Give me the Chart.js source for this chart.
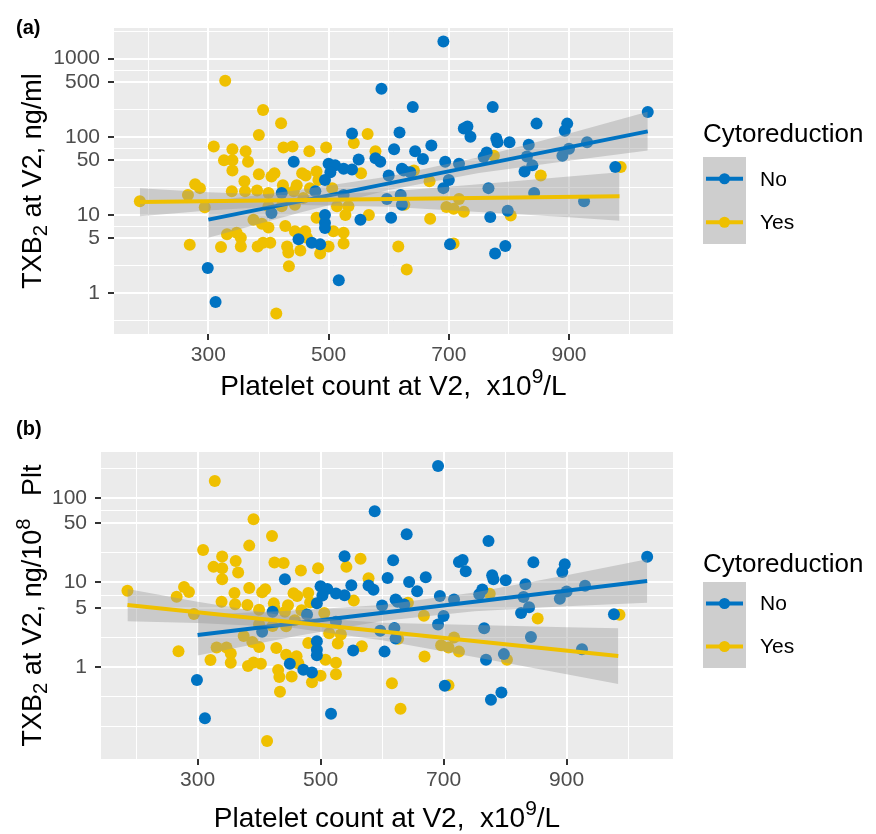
<!DOCTYPE html>
<html>
<head>
<meta charset="utf-8">
<script src="https://cdn.jsdelivr.net/npm/chart.js@4.4.1/dist/chart.umd.min.js"></script>
<style>
  body { margin: 0; background: #fff; }
  canvas { display: block; }
</style>
</head>
<body>
<canvas id="chartA" width="876" height="417"></canvas>
<canvas id="chartB" width="876" height="417"></canvas>
<script>
// platelet counts (x10^9/L), same patients in both panels
const platNo = [588,539,618,609,550,578,586,442,500,511,525,539,503,494,478,525,622,600,622,405,
  494,494,494,553,604,450,472,486,299,312,517,422,597,
  691,640,773,846,897,893,1031,725,731,736,779,781,801,671,644,657,763,758,833,830,
  930,889,900,694,717,625,636,700,691,766,839,826,977,842,925,769,798,702,777,794,620];
const platYes = [328,391,421,384,309,340,362,425,440,468,496,565,542,326,340,366,340,384,405,410,
  360,424,456,462,480,483,554,278,286,266,339,361,381,400,425,442,447,469,506,186,
  294,375,389,400,428,400,422,444,458,480,514,528,533,567,331,347,354,269,321,354,
  382,391,403,431,433,444,461,464,453,486,508,525,525,500,434,413,616,630,578,986,
  853,775,668,696,708,725,717,669,803,708,642,626];

// panel (a): TXB2 ng/ml
const txbNoA = [410,110,113,69,51,53,48,48,45,43,39,38,35,28,20,18,39,32,13.5,10.6,
  10,7.9,6.8,8.7,9.2,4.9,4.4,4.2,2.1,0.77,1.46,19,16,
  1650,239,239,147,147,119,207,127,135,100,95,85,85,77,65,52,63,55,79,56,
  85,57,70,48,45,37,35,28,22,22,43,36,41,19,15,9.4,11.3,4.2,3.2,4.0,18];
const txbYesA = [520,219,149,105,75,69,65,73,75,65,73,108,83,50,50,48,37,33,31,34,
  27,24,34,32,36,28,34,24.6,22,18,20,20,20.5,19,21,20,24,22,22,14.9,
  12.5,8.7,7.7,6.9,7.2,12.9,12.9,13.5,16.4,9.2,12.9,10,12.9,10,5.65,5.9,5.1,4.15,3.9,3.95,
  3.95,4.4,4.4,3.95,3.3,6.2,6.2,5.1,3.5,3.2,6.2,5.9,4.3,3.95,2.2,0.55,3.95,2.0,65,41,
  32,57,27,12.6,12,11,16,8.9,9.8,4.3,37,13.5];

// panel (b): TXB2 ng/10^8 Plt
const txbNoB = [69.7,20.4,18.3,11.3,9.3,9.2,8.2,10.9,9.0,8.4,7.4,7.05,7.0,5.67,4.18,3.43,6.27,5.33,2.17,2.62,
  2.02,1.6,1.38,1.57,1.52,1.09,0.93,0.86,0.70,0.247,0.28,4.5,2.68,
  239,37.3,30.9,17.4,16.4,13.3,20.1,17.5,18.5,13.6,12.2,10.9,10.6,11.5,10.1,7.9,8.26,7.26,9.5,6.75,
  9.14,6.4,7.8,6.9,6.3,5.9,5.5,4.0,3.18,2.87,5.1,4.36,4.2,2.26,1.62,1.22,1.42,0.60,0.41,0.50,2.9];
const txbYesB = [158.5,56,35.4,27.3,24.3,20.3,18,17.2,17,13.9,14.7,19.1,15.3,15.3,14.7,13.1,10.9,8.6,7.65,8.3,
  7.5,5.66,7.46,6.9,7.5,5.8,6.1,8.85,7.7,6.77,5.9,5.54,5.4,4.75,4.94,4.5,5.37,4.7,4.35,8.0,
  4.25,2.32,1.98,1.72,1.68,3.2,3.06,3.04,3.58,1.92,2.5,1.9,2.42,1.76,1.7,1.7,1.44,1.54,1.21,1.12,
  1.03,1.13,1.09,0.92,0.76,1.4,1.34,1.1,0.77,0.66,1.22,1.12,0.82,0.79,0.51,0.133,0.64,0.32,11.2,4.16,
  3.75,7.35,4.04,1.81,1.7,1.52,2.23,1.33,1.22,0.61,5.76,2.16];

// fitted lines and confidence bands
const fitXNo = [300, 1031];
const fitXYes = [186, 984];
const noFitA = [8.7, 117];
const yesFitA = [14.6, 17.3];
const noFitB = [2.39, 10.4];
const yesFitB = [5.4, 1.35];
const bandXNo = [300, 450, 600, 750, 900, 1031];
const bandXYes = [186, 300, 450, 600, 750, 900, 984];
const noUpperA = [14.8, 20.8, 30.9, 54.6, 110, 208];
const noLowerA = [5.1, 10.6, 20.8, 34.3, 49.4, 66.4];
const yesUpperA = [21.9, 19.5, 17.7, 19.9, 24.6, 30.9, 35.2];
const yesLowerA = [9.6, 11.4, 13.4, 12.7, 10.9, 9.3, 8.45];
const noUpperB = [4.15, 4.62, 5.43, 7.6, 12.2, 18.8];
const noLowerB = [1.37, 2.25, 3.5, 4.58, 5.24, 5.74];
const yesUpperB = [8.36, 5.9, 3.97, 3.34, 3.13, 2.96, 2.88];
const yesLowerB = [3.48, 3.32, 2.93, 2.07, 1.31, 0.82, 0.63];

// axis breaks
const xMajor = [300, 500, 700, 900];
const xMinor = [200, 400, 600, 800, 1000];
const yMajorA = [1, 5, 10, 50, 100, 500, 1000];
const yMinorA = [0.447, 2.236, 7.07, 22.36, 70.7, 223.6, 707, 2236];
const yMajorB = [1, 5, 10, 50, 100];
const yMinorB = [0.2, 0.447, 2.236, 7.07, 22.36, 70.7, 223.6];

const groups = ['No', 'Yes'];
const blue = '#0073C2';
const yellow = '#EFC000';
const bandFill = 'rgba(153,153,153,0.4)';
const FONT = "'Liberation Sans', Arial, sans-serif";

function pts(xs, ys) {
    return xs.map((x, i) => ({ x: x, y: ys[i] }));
}

function drawRich(ctx, parts, x, y, size) {
    let total = 0;
    parts.forEach(p => {
        const s = (p.sub || p.sup) ? size * 0.75 : size;
        ctx.font = s + 'px ' + FONT;
        p.w = ctx.measureText(p.t).width;
        total += p.w;
    });
    let cur = x - total / 2;
    ctx.textAlign = 'left';
    ctx.textBaseline = 'alphabetic';
    parts.forEach(p => {
        const s = (p.sub || p.sup) ? size * 0.75 : size;
        ctx.font = s + 'px ' + FONT;
        let dy = 0;
        if (p.sub) dy = size * 0.22;
        if (p.sup) dy = -size * 0.42;
        ctx.fillText(p.t, cur, y + dy);
        cur += p.w;
    });
}

const panelPlugin = {
    id: 'panel',
    beforeDraw(chart, args, o) {
        const c = chart.ctx, a = chart.chartArea;
        c.save();
        c.fillStyle = '#fff';
        c.fillRect(0, 0, chart.width, chart.height);
        c.fillStyle = '#EBEBEB';
        c.fillRect(a.left, a.top, a.right - a.left, a.bottom - a.top);
        c.restore();
    },
    afterDraw(chart, args, o) {
        const c = chart.ctx, a = chart.chartArea;
        c.save();
        c.fillStyle = '#000';
        c.font = 'bold 20px ' + FONT;
        c.textAlign = 'left';
        c.textBaseline = 'alphabetic';
        c.fillText(o.tag, 16, o.tagY);

        // y title
        c.save();
        c.translate(41, (a.top + a.bottom) / 2);
        c.rotate(-Math.PI / 2);
        drawRich(c, o.yTitle, 0, 0, 27);
        c.restore();

        // x title
        drawRich(c, [
            { t: 'Platelet count at V2,  x10' }, { t: '9', sup: true }, { t: '/L' }
        ], (a.left + a.right) / 2, o.xTitleY, 28);

        // legend
        const lx = 703;
        c.font = '26px ' + FONT;
        c.fillText('Cytoreduction', lx, o.legTitleY);
        const kh = o.keyH;
        c.fillStyle = '#F2F2F2';
        c.fillRect(lx, o.keyTop, 43, kh * 2);
        c.fillStyle = bandFill;
        c.fillRect(lx, o.keyTop, 43, kh * 2);
        [blue, yellow].forEach((col, i) => {
            const cy = o.keyTop + kh / 2 + i * kh;
            c.strokeStyle = col;
            c.lineWidth = 4;
            c.beginPath();
            c.moveTo(lx + 3, cy);
            c.lineTo(lx + 40, cy);
            c.stroke();
            c.fillStyle = col;
            c.beginPath();
            c.arc(lx + 21.5, cy, 5.5, 0, Math.PI * 2);
            c.fill();
            c.fillStyle = '#000';
            c.font = '21px ' + FONT;
            c.textBaseline = 'middle';
            c.fillText(groups[i], 760, cy + 1);
            c.textBaseline = 'alphabetic';
        });
        c.restore();
    }
};

function makePanel(id, cfg) {
    const isMajorY = v => cfg.yMajor.includes(v);
    const datasets = [
        { label: 'Yes', data: pts(platYes, cfg.yesY), backgroundColor: yellow, pointRadius: 6, borderWidth: 0, order: 5 },
        { label: 'No', data: pts(platNo, cfg.noY), backgroundColor: blue, pointRadius: 6, borderWidth: 0, order: 4 },
        { type: 'line', data: pts(bandXNo, cfg.noLow), borderWidth: 0, pointRadius: 0, fill: false, order: 3 },
        { type: 'line', data: pts(bandXNo, cfg.noUp), borderWidth: 0, pointRadius: 0, fill: '-1', backgroundColor: bandFill, order: 3 },
        { type: 'line', data: pts(fitXNo, cfg.noFit), borderColor: blue, borderWidth: 4, pointRadius: 0, fill: false, order: 2 },
        { type: 'line', data: pts(bandXYes, cfg.yesLow), borderWidth: 0, pointRadius: 0, fill: false, order: 1 },
        { type: 'line', data: pts(bandXYes, cfg.yesUp), borderWidth: 0, pointRadius: 0, fill: '-1', backgroundColor: bandFill, order: 1 },
        { type: 'line', data: pts(fitXYes, cfg.yesFit), borderColor: yellow, borderWidth: 4, pointRadius: 0, fill: false, order: 0 }
    ];
    return new Chart(document.getElementById(id), {
        type: 'scatter',
        data: { datasets: datasets },
        options: {
            responsive: false,
            animation: false,
            devicePixelRatio: 1,
            layout: { padding: { left: 0, right: 203, top: cfg.top, bottom: 0 } },
            plugins: {
                legend: { display: false },
                tooltip: { enabled: false },
                panel: cfg.panel
            },
            scales: {
                x: {
                    type: 'linear',
                    min: 143,
                    max: 1073,
                    afterFit: s => { s.height = cfg.xh; },
                    afterBuildTicks: s => {
                        s.ticks = xMinor.concat(xMajor).sort((p, q) => p - q).map(v => ({ value: v }));
                    },
                    ticks: {
                        autoSkip: false, maxRotation: 0, padding: 3,
                        color: '#4D4D4D', font: { family: FONT, size: 21 },
                        callback: v => xMajor.includes(v) ? String(v) : ''
                    },
                    grid: {
                        color: '#fff',
                        lineWidth: c => (c.tick && xMajor.includes(c.tick.value)) ? 2 : 1,
                        tickColor: c => (c.tick && xMajor.includes(c.tick.value)) ? '#333' : 'rgba(0,0,0,0)',
                        tickLength: 6,
                        tickWidth: 2
                    },
                    border: { display: false }
                },
                y: {
                    type: 'logarithmic',
                    min: cfg.yMin,
                    max: cfg.yMax,
                    afterFit: s => { s.width = cfg.yw; },
                    afterBuildTicks: s => {
                        s.ticks = cfg.yMinor.concat(cfg.yMajor).sort((p, q) => p - q).map(v => ({ value: v }));
                    },
                    ticks: {
                        autoSkip: false, padding: 8,
                        color: '#4D4D4D', font: { family: FONT, size: 21 },
                        callback: v => isMajorY(v) ? String(v) : ''
                    },
                    grid: {
                        color: '#fff',
                        lineWidth: c => (c.tick && isMajorY(c.tick.value)) ? 2 : 1,
                        tickColor: c => (c.tick && isMajorY(c.tick.value)) ? '#333' : 'rgba(0,0,0,0)',
                        tickLength: 6,
                        tickWidth: 2
                    },
                    border: { display: false }
                }
            }
        },
        plugins: [panelPlugin]
    });
}

document.addEventListener('DOMContentLoaded', function () {
    makePanel('chartA', {
        top: 28, xh: 83, yw: 114, yMin: 0.343, yMax: 2455,
        yMajor: yMajorA, yMinor: yMinorA,
        noY: txbNoA, yesY: txbYesA, noFit: noFitA, yesFit: yesFitA,
        noUp: noUpperA, noLow: noLowerA, yesUp: yesUpperA, yesLow: yesLowerA,
        panel: {
            tag: '(a)', tagY: 34, xTitleY: 395,
            yTitle: [{ t: 'TXB' }, { t: '2', sub: true }, { t: ' at V2, ng/ml' }],
            legTitleY: 142, keyTop: 157, keyH: 43.5
        }
    });
    makePanel('chartB', {
        top: 35, xh: 75, yw: 101, yMin: 0.0815, yMax: 350,
        yMajor: yMajorB, yMinor: yMinorB,
        noY: txbNoB, yesY: txbYesB, noFit: noFitB, yesFit: yesFitB,
        noUp: noUpperB, noLow: noLowerB, yesUp: yesUpperB, yesLow: yesLowerB,
        panel: {
            tag: '(b)', tagY: 18, xTitleY: 410,
            yTitle: [{ t: 'TXB' }, { t: '2', sub: true }, { t: ' at V2, ng/10' }, { t: '8', sup: true }, { t: '   Plt' }],
            legTitleY: 155, keyTop: 165, keyH: 43
        }
    });
});
</script>
</body>
</html>
